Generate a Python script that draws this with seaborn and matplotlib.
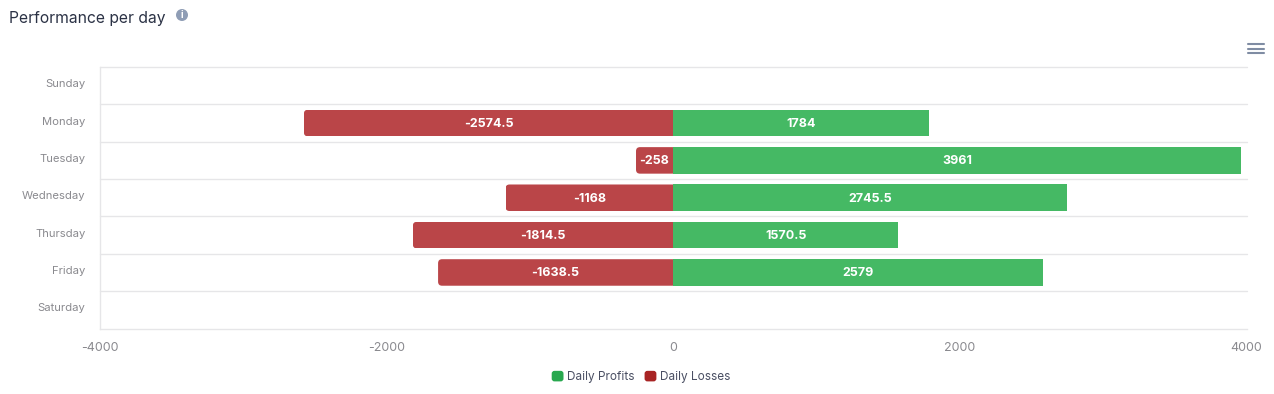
import pandas as pd
import seaborn as sns
import matplotlib.pyplot as plt
from matplotlib.legend_handler import HandlerPatch
from matplotlib.lines import Line2D
from matplotlib.patches import Circle, FancyBboxPatch, Patch
from matplotlib.transforms import IdentityTransform, ScaledTranslation

days = ['Sunday', 'Monday', 'Tuesday', 'Wednesday', 'Thursday', 'Friday', 'Saturday']
profits = [None, 1784, 3961, 2745.5, 1570.5, 2579, None]
losses = [None, -2574.5, -258, -1168, -1814.5, -1638.5, None]
x_ticks = [-4000, -2000, 0, 2000, 4000]
series_names = ['Daily Profits', 'Daily Losses']

W, H = 1274, 394
FONT = 'Inter'
GRID = '#e6e6e8'
TICK_TEXT = '#8a8a8f'
INK = '#2b3245'

sns.set_theme(style='white')
plt.rcParams['font.family'] = [FONT, 'DejaVu Sans']
plt.rcParams['axes.unicode_minus'] = False

df = pd.DataFrame({
    'day': days * 2,
    'value': pd.to_numeric(pd.Series(profits + losses), errors='coerce'),
    'series': [series_names[0]] * 7 + [series_names[1]] * 7,
})

fig = plt.figure(figsize=(W / 100, H / 100), dpi=100, facecolor='white')
ax = fig.add_axes([99.5 / W, (H - 328.5) / H, 1147 / W, 261.5 / H])

sns.barplot(data=df, x='value', y='day', hue='series', order=days, dodge=False,
            palette={series_names[0]: '#45b964', series_names[1]: '#ba4548'},
            width=0.71, legend=False, ax=ax, saturation=1, errorbar=None,
            linewidth=0, edgecolor='none')

ax.set_xlim(x_ticks[0], x_ticks[-1])
ax.set_ylim(len(days) - 0.5, -0.5)
ax.set_xlabel('')
ax.set_ylabel('')
ax.set_xticks(x_ticks)
ax.tick_params(axis='x', length=5, width=1, color=GRID, labelsize=9, labelcolor=TICK_TEXT, pad=5)
ax.tick_params(axis='y', length=0, labelsize=8.1, labelcolor=TICK_TEXT, pad=10)
for label in ax.get_yticklabels():
    label.set_transform(label.get_transform() + ScaledTranslation(0, 2.5 / 100, fig.dpi_scale_trans))
for spine in ['top', 'right']:
    ax.spines[spine].set_visible(False)
for spine in ['left', 'bottom']:
    ax.spines[spine].set_color(GRID)
    ax.spines[spine].set_linewidth(1)
for edge in range(len(days)):
    ax.axhline(edge - 0.5, color=GRID, lw=1, zorder=0, clip_on=False)

# only the loss bars get round corners, and only on the outer end
fig.canvas.draw()
for container in ax.containers:
    for patch, value in zip(container, container.datavalues):
        if pd.isna(value):
            continue
        if value < 0:
            box = patch.get_window_extent()
            clip = FancyBboxPatch((box.x0, box.y0), box.width + 8, box.height,
                                  boxstyle='round,pad=0,rounding_size=4',
                                  transform=IdentityTransform())
            patch.set_clip_path(clip)
        ax.annotate(f'{value:g}', (value / 2, patch.get_y() + patch.get_height() / 2),
                    xytext=(0, -0.7), textcoords='offset points',
                    color='white', fontsize=9, fontweight='bold', ha='center', va='center')


class RoundHandle(HandlerPatch):
    def create_artists(self, legend, orig, xd, yd, width, height, fontsize, trans):
        box = FancyBboxPatch((-xd, -yd), width, height, boxstyle='round,pad=0,rounding_size=2',
                             facecolor=orig.get_facecolor(), edgecolor='none', transform=trans)
        return [box]


handles = [Patch(color='#28a84f', label=series_names[0]), Patch(color='#a82424', label=series_names[1])]
fig.legend(handles=handles, handler_map={Patch: RoundHandle()}, ncol=2, frameon=False,
           loc='center', bbox_to_anchor=(641 / W, (H - 377) / H), fontsize=8.5,
           labelcolor='#4a4f63', handlelength=1.0, handleheight=1.0,
           handletextpad=0.3, columnspacing=0.85, borderpad=0)

fig.text(9 / W, (H - 18) / H, 'Performance per day', fontsize=11.25, color=INK, va='center', ha='left')

# info icon
fig.add_artist(Circle((182, H - 15), 6, transform=IdentityTransform(), facecolor='#8f9db5', edgecolor='none'))
fig.text(182 / W, (H - 15) / H, 'i', fontsize=7, fontweight='bold', color='white', ha='center', va='center')

# menu icon
for y_px in [44, 48.5, 53]:
    fig.add_artist(Line2D([1248 / W, 1264 / W], [(H - y_px) / H] * 2, color='#7f8ca3', lw=1.5))

fig.savefig('out.png', dpi=100, facecolor='white')
